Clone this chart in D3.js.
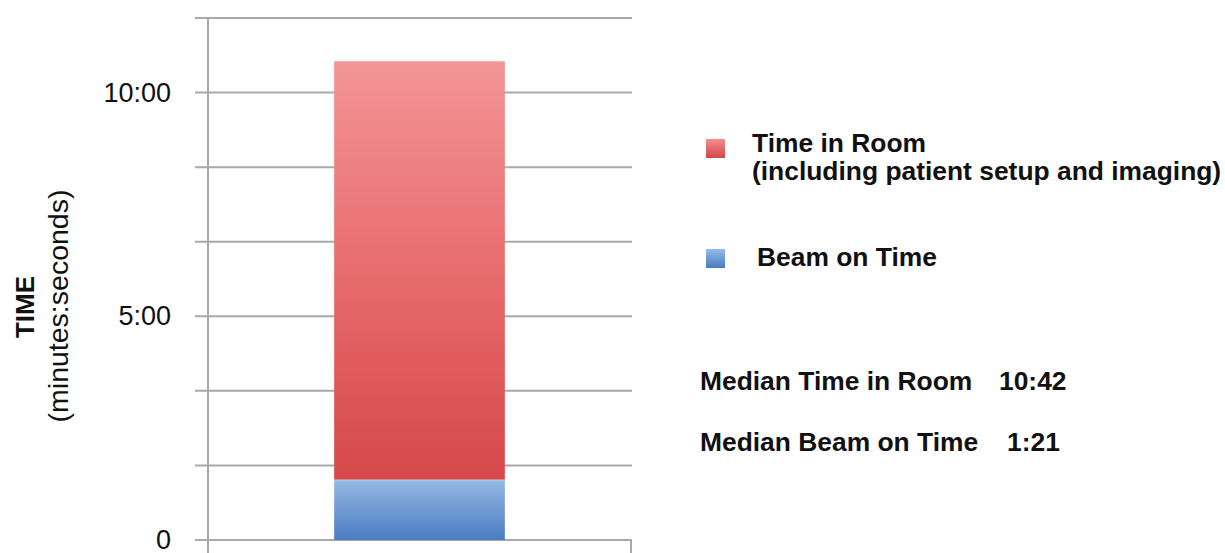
<!DOCTYPE html>
<html>
<head>
<meta charset="utf-8">
<script src="https://cdn.jsdelivr.net/npm/d3@7"></script>
<style>
  html, body { margin: 0; padding: 0; background: #fff; }
  svg { display: block; font-family: "Liberation Sans", Arial, sans-serif; }
</style>
</head>
<body>
<div id="chart"></div>
<script>
const width = 1225;
const height = 553;

// podaci (sekunde)
const kategorije = ["Median"];
const beamOnTime = [81];
const timeInRoom = [642];
const gridVrijednosti = [0, 100, 200, 300, 400, 500, 600, 700];
const tickVrijednosti = [0, 300, 600];
const tickOznake = ["0", "5:00", "10:00"];
const legendaNazivi = ["Time in Room", "Beam on Time"];
const medijanOznake = ["Median Time in Room", "Median Beam on Time"];
const medijanVrijednosti = ["10:42", "1:21"];

const svg = d3
  .select("#chart")
  .append("svg")
  .attr("width", width)
  .attr("height", height);

const defs = svg.append("defs");
function gradijent(id, stops) {
  const g = defs
    .append("linearGradient")
    .attr("id", id)
    .attr("x1", 0)
    .attr("y1", 0)
    .attr("x2", 0)
    .attr("y2", 1);
  stops.forEach(([o, c]) => g.append("stop").attr("offset", o).attr("stop-color", c));
}
gradijent("crvena", [[0, "#f39597"], [0.5, "#e86c6d"], [1, "#d6484a"]]);
gradijent("plava", [[0, "#a9d2ef"], [0.04, "#93b6e2"], [1, "#4a7cc1"]]);
gradijent("crvenaL", [[0, "#f48e8e"], [1, "#d24646"]]);
gradijent("plavaL", [[0, "#92bce9"], [1, "#4a7bc0"]]);

const y = d3.scaleLinear().domain([0, 700]).range([540, 18]);
const x = d3.scaleBand().domain(kategorije).range([208, 631]).padding(0.425);

// mreza
svg
  .append("g")
  .selectAll("line")
  .data(gridVrijednosti)
  .join("line")
  .attr("x1", 195)
  .attr("x2", 632)
  .attr("y1", (d) => y(d))
  .attr("y2", (d) => y(d))
  .attr("stroke", "#a9a9a9")
  .attr("stroke-width", 2);

// osi
svg
  .append("line")
  .attr("x1", 208)
  .attr("x2", 208)
  .attr("y1", y(700))
  .attr("y2", height)
  .attr("stroke", "#a9a9a9")
  .attr("stroke-width", 2);
svg
  .append("line")
  .attr("x1", 631)
  .attr("x2", 631)
  .attr("y1", y(0))
  .attr("y2", height)
  .attr("stroke", "#a9a9a9")
  .attr("stroke-width", 2);

svg
  .append("g")
  .selectAll("text")
  .data(tickVrijednosti)
  .join("text")
  .attr("x", 171)
  .attr("y", (d) => y(d) + 9)
  .attr("text-anchor", "end")
  .attr("font-size", 27)
  .attr("fill", "#111")
  .text((d, i) => tickOznake[i]);

// naslov osi
svg
  .append("text")
  .attr("transform", "translate(0,307) rotate(-90)")
  .attr("text-anchor", "middle")
  .attr("x", 0)
  .attr("y", 34)
  .attr("font-size", 26)
  .attr("font-weight", "bold")
  .attr("fill", "#111")
  .text("TIME");
svg
  .append("text")
  .attr("transform", "translate(0,306) rotate(-90)")
  .attr("text-anchor", "middle")
  .attr("x", 0)
  .attr("y", 68)
  .attr("font-size", 28.5)
  .attr("fill", "#111")
  .text("(minutes:seconds)");

// stupci
const bw = x.bandwidth();
svg
  .append("g")
  .selectAll("rect")
  .data(kategorije)
  .join("rect")
  .attr("x", (d) => x(d))
  .attr("width", bw)
  .attr("y", (d, i) => y(beamOnTime[i]))
  .attr("height", (d, i) => y(0) - y(beamOnTime[i]))
  .attr("fill", "url(#plava)");
svg
  .append("g")
  .selectAll("rect")
  .data(kategorije)
  .join("rect")
  .attr("x", (d) => x(d))
  .attr("width", bw)
  .attr("y", (d, i) => y(timeInRoom[i]))
  .attr("height", (d, i) => y(beamOnTime[i]) - y(timeInRoom[i]))
  .attr("fill", "url(#crvena)");

// legenda
const leg = svg.append("g").attr("font-size", 26.4).attr("font-weight", "bold").attr("fill", "#111");
leg.append("rect").attr("x", 706).attr("y", 139).attr("width", 19).attr("height", 19).attr("fill", "url(#crvenaL)");
leg.append("text").attr("x", 752).attr("y", 152).text(legendaNazivi[0]);
leg.append("text").attr("x", 752).attr("y", 180).text("(including patient setup and imaging)");
leg.append("rect").attr("x", 706).attr("y", 249).attr("width", 19).attr("height", 19).attr("fill", "url(#plavaL)");
leg.append("text").attr("x", 757).attr("y", 266).text(legendaNazivi[1]);

const med = svg.append("g").attr("font-size", 26.4).attr("font-weight", "bold").attr("fill", "#111");
const medY = [390, 451];
const medX = [999, 1007];
medijanOznake.forEach((t, i) => {
  med.append("text").attr("x", 700).attr("y", medY[i]).text(t);
  med.append("text").attr("x", medX[i]).attr("y", medY[i]).text(medijanVrijednosti[i]);
});
</script>
</body>
</html>
